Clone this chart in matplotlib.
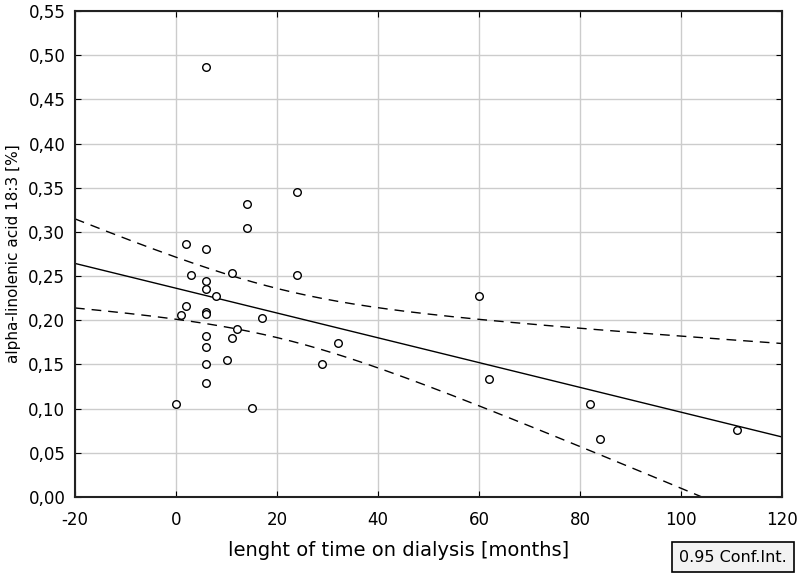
import numpy as np
import matplotlib
matplotlib.use("Agg")
import matplotlib.pyplot as plt
from matplotlib.ticker import FuncFormatter

months = [0, 1, 2, 2, 3, 6, 6, 6, 6, 6, 6, 6, 6, 6, 6, 8, 10, 11, 11, 12,
          14, 14, 15, 17, 24, 24, 29, 32, 60, 62, 82, 84, 111]
ala = [0.105, 0.206, 0.216, 0.286, 0.251, 0.487, 0.281, 0.245, 0.235, 0.209,
       0.207, 0.182, 0.170, 0.151, 0.129, 0.227, 0.155, 0.253, 0.180, 0.190,
       0.332, 0.304, 0.101, 0.203, 0.345, 0.251, 0.150, 0.174, 0.227, 0.133,
       0.105, 0.066, 0.076]
x_ticks = [-20, 0, 20, 40, 60, 80, 100, 120]
y_ticks = [0.00, 0.05, 0.10, 0.15, 0.20, 0.25, 0.30, 0.35, 0.40, 0.45, 0.50, 0.55]

plt.rcParams['font.family'] = ['DejaVu Sans']
plt.rcParams['axes.unicode_minus'] = False

x = np.array(months, float)
y = np.array(ala, float)
n = len(x)
b, a = np.polyfit(x, y, 1)
resid = y - (a + b * x)
s = np.sqrt(np.sum(resid ** 2) / (n - 2))
sxx = np.sum((x - x.mean()) ** 2)
tval = 2.04
xs = np.linspace(-20, 120, 200)
yh = a + b * xs
se = s * np.sqrt(1.0 / n + (xs - x.mean()) ** 2 / sxx)

fig = plt.figure(figsize=(8, 5.76), dpi=100)
ax = fig.add_axes([75 / 800, 1 - 497 / 576, 707 / 800, 486 / 576])

ax.plot(xs, yh, color='black', lw=1.0)
ax.plot(xs, yh + tval * se, color='black', lw=1.0, ls=(0, (7, 5)))
ax.plot(xs, yh - tval * se, color='black', lw=1.0, ls=(0, (7, 5)))
ax.scatter(x, y, s=30, facecolors='white', edgecolors='black', linewidths=1.0, zorder=3)

ax.set_xlim(-20, 120)
ax.set_ylim(0, 0.55)
ax.set_xticks(x_ticks)
ax.set_yticks(y_ticks)
ax.yaxis.set_major_formatter(FuncFormatter(lambda v, p: f"{v:.2f}".replace('.', ',')))
ax.grid(True, color='#cccccc', lw=1.0)
ax.set_axisbelow(True)
ax.tick_params(direction='in', length=4, top=True, right=True, labelsize=12, colors='black')
ax.tick_params(axis='y', pad=7)
ax.tick_params(axis='x', pad=10)
for sp in ax.spines.values():
    sp.set_linewidth(1.5)
    sp.set_color('#222222')

fig.text(14 / 800, 1 - 254 / 576, 'alpha-linolenic acid 18:3 [%]', fontsize=11,
         rotation=90, ha='center', va='center')
fig.text(399 / 800, 1 - 551 / 576, 'lenght of time on dialysis [months]', fontsize=14,
         ha='center', va='center')
fig.text(733 / 800, 1 - 557 / 576, '0.95 Conf.Int.', fontsize=11.5, ha='center', va='center',
         bbox=dict(boxstyle='square,pad=0.45', facecolor='#f2f2f2', edgecolor='black', lw=1.2))

fig.savefig('out.png', dpi=100)
